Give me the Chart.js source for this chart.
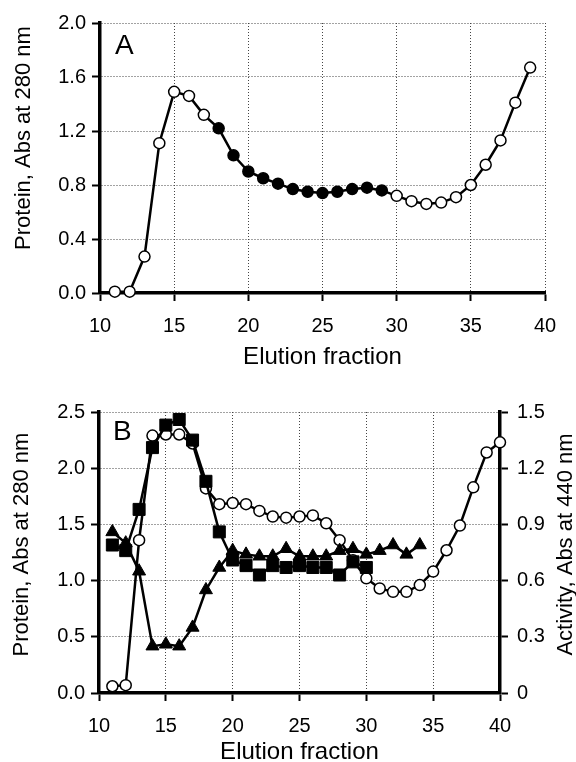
<!DOCTYPE html>
<html>
<head>
<meta charset="utf-8">
<script src="https://cdn.jsdelivr.net/npm/chart.js@4.4.1/dist/chart.umd.min.js"></script>
<style>
  body { margin: 0; background: #fff; }
  .panel { width: 576px; height: 381px; position: relative; }
</style>
</head>
<body>
<div class="panel"><canvas id="panelA" width="576" height="381"></canvas></div>
<div class="panel"><canvas id="panelB" width="576" height="381"></canvas></div>
<script>
const FONT = 'Arial, "Liberation Sans", sans-serif';

// Panel A - protein elution profile
const fractionsA = [11, 12, 13, 14, 15, 16, 17, 18, 19, 20, 21, 22, 23, 24, 25,
                    26, 27, 28, 29, 30, 31, 32, 33, 34, 35, 36, 37, 38, 39];
const proteinA = [0.01, 0.01, 0.27, 1.11, 1.49, 1.46, 1.32, 1.22, 1.02, 0.90, 0.85, 0.81, 0.77, 0.75, 0.74,
                  0.75, 0.77, 0.78, 0.76, 0.72, 0.68, 0.66, 0.67, 0.71, 0.80, 0.95, 1.13, 1.41, 1.67];
// fractions drawn with filled circles
const pooledA = [18, 19, 20, 21, 22, 23, 24, 25, 26, 27, 28, 29];

// Panel B - protein (left axis) and activities (right axis)
const fractionsB = [11, 12, 13, 14, 15, 16, 17, 18, 19, 20, 21, 22, 23, 24, 25,
                    26, 27, 28, 29, 30, 31, 32, 33, 34, 35, 36, 37, 38, 39, 40];
const proteinB = [0.06, 0.07, 1.36, 2.29, 2.30, 2.30, 2.22, 1.82, 1.68, 1.69, 1.68, 1.62, 1.57, 1.56, 1.57,
                  1.58, 1.51, 1.36, 1.18, 1.02, 0.93, 0.90, 0.90, 0.96, 1.08, 1.27, 1.49, 1.83, 2.14, 2.23];
const squareFractions = [11, 12, 13, 14, 15, 16, 17, 18, 19, 20, 21, 22, 23, 24, 25, 26, 27, 28, 29, 30];
const squareActivity = [0.79, 0.76, 0.98, 1.31, 1.43, 1.46, 1.35, 1.13, 0.86, 0.71,
                        0.68, 0.63, 0.68, 0.67, 0.68, 0.67, 0.67, 0.63, 0.70, 0.67];
const triangleFractions = [11, 12, 13, 14, 15, 16, 17, 18, 19, 20, 21, 22, 23, 24, 25, 26, 27, 28, 29, 30, 31, 32, 33, 34];
const triangleActivity = [0.86, 0.80, 0.65, 0.25, 0.26, 0.25, 0.35, 0.55, 0.67, 0.76, 0.74, 0.73,
                          0.73, 0.77, 0.73, 0.73, 0.73, 0.76, 0.77, 0.74, 0.76, 0.79, 0.74, 0.79];

const xTicks = ['10', '15', '20', '25', '30', '35', '40'];
const yTicksA = ['0.0', '0.4', '0.8', '1.2', '1.6', '2.0'];
const yTicksB = ['0.0', '0.5', '1.0', '1.5', '2.0', '2.5'];
const y2TicksB = ['0', '0.3', '0.6', '0.9', '1.2', '1.5'];

const xTitle = 'Elution fraction';
const proteinTitle = 'Protein, Abs at 280 nm';
const activityTitle = 'Activity, Abs at 440 nm';

const toPoints = (xs, ys) => xs.map((x, i) => ({ x: x, y: ys[i] }));

// draws panel letter and the rotated y titles (right one reads bottom-to-top like the original)
const panelText = {
    id: 'panelText',
    afterDraw(chart, args, opts) {
        const ctx = chart.ctx;
        const area = chart.chartArea;
        ctx.save();
        ctx.fillStyle = '#000';
        ctx.font = '28px ' + FONT;
        ctx.textBaseline = 'alphabetic';
        ctx.fillText(opts.letter, area.left + opts.letterDx, area.top + opts.letterDy);
        ctx.font = '22px ' + FONT;
        ctx.textAlign = 'center';
        ctx.textBaseline = 'middle';
        opts.titles.forEach(t => {
            ctx.save();
            ctx.translate(t.x, (area.top + area.bottom) / 2 + t.dy);
            ctx.rotate(-Math.PI / 2);
            ctx.fillText(t.text, 0, 0);
            ctx.restore();
        });
        ctx.restore();
    }
};

const tickFont = { size: 20, family: FONT };

const xScale = (height, titlePad) => ({
    type: 'linear',
    min: 10,
    max: 40,
    ticks: {
        stepSize: 5, color: '#000', font: tickFont, padding: 13,
        maxRotation: 0, autoSkip: false,
        callback: (v, i) => xTicks[i]
    },
    grid: { color: '#444', lineWidth: 1, tickColor: '#000', tickWidth: 2, tickLength: 8 },
    border: { color: '#000', width: 3.5, dash: [1, 2] },
    title: {
        display: true, text: xTitle, color: '#000',
        font: { size: 24, family: FONT, lineHeight: 1 },
        padding: { top: 0, bottom: titlePad }
    },
    afterFit: s => { s.height = height; }
});

const leftScale = (max, step, labels, width) => ({
    type: 'linear',
    position: 'left',
    min: 0,
    max: max,
    ticks: {
        stepSize: step, color: '#000', font: tickFont, padding: 6,
        callback: (v, i) => labels[i]
    },
    grid: { color: '#444', lineWidth: 1, tickColor: '#000', tickWidth: 2, tickLength: 8 },
    border: { color: '#000', width: 3.5, dash: [1, 2] },
    afterFit: s => { s.width = width; }
});

const lineStyle = {
    borderColor: '#000',
    borderWidth: 2.5,
    tension: 0,
    clip: false,
    pointBorderColor: '#000'
};

new Chart(document.getElementById('panelA'), {
    type: 'line',
    data: {
        datasets: [{
            ...lineStyle,
            data: toPoints(fractionsA, proteinA),
            pointStyle: 'circle',
            pointRadius: 5.5,
            pointBorderWidth: 1.5,
            pointBackgroundColor: fractionsA.map(f => pooledA.includes(f) ? '#000' : '#fff')
        }]
    },
    options: {
        responsive: false,
        animation: false,
        devicePixelRatio: 1,
        layout: { padding: { top: 23, right: 31, left: 0, bottom: 0 } },
        scales: {
            x: xScale(88, 12),
            y: leftScale(2.0, 0.4, yTicksA, 100)
        },
        plugins: {
            legend: { display: false },
            tooltip: { enabled: false },
            panelText: {
                letter: 'A', letterDx: 15, letterDy: 31,
                titles: [{ text: proteinTitle, x: 24, dy: -20 }]
            }
        }
    },
    plugins: [panelText]
});

new Chart(document.getElementById('panelB'), {
    type: 'line',
    data: {
        datasets: [{
            ...lineStyle,
            order: 0,
            yAxisID: 'y2',
            data: toPoints(triangleFractions, triangleActivity),
            pointStyle: 'triangle',
            pointRadius: 7.5,
            pointBorderWidth: 1,
            pointBackgroundColor: '#000'
        }, {
            ...lineStyle,
            order: 1,
            yAxisID: 'y2',
            data: toPoints(squareFractions, squareActivity),
            pointStyle: 'rect',
            pointRadius: 8.5,
            pointBorderWidth: 1,
            pointBackgroundColor: '#000'
        }, {
            ...lineStyle,
            order: 2,
            yAxisID: 'y',
            data: toPoints(fractionsB, proteinB),
            pointStyle: 'circle',
            pointRadius: 5.5,
            pointBorderWidth: 1.5,
            pointBackgroundColor: '#fff'
        }]
    },
    options: {
        responsive: false,
        animation: false,
        devicePixelRatio: 1,
        layout: { padding: { top: 31, right: 0, left: 0, bottom: 0 } },
        scales: {
            x: xScale(69, -2),
            y: leftScale(2.5, 0.5, yTicksB, 99),
            y2: {
                type: 'linear',
                position: 'right',
                min: 0,
                max: 1.5,
                ticks: {
                    stepSize: 0.3, color: '#000', font: tickFont, padding: 9,
                    callback: (v, i) => y2TicksB[i]
                },
                grid: { drawOnChartArea: false, color: '#000', tickColor: '#000', tickWidth: 2, tickLength: 8 },
                border: { color: '#000', width: 3.5 },
                afterFit: s => { s.width = 76; }
            }
        },
        plugins: {
            legend: { display: false },
            tooltip: { enabled: false },
            panelText: {
                letter: 'B', letterDx: 14, letterDy: 28,
                titles: [
                    { text: proteinTitle, x: 22, dy: -8 },
                    { text: activityTitle, x: 566, dy: -8 }
                ]
            }
        }
    },
    plugins: [panelText]
});
</script>
</body>
</html>
